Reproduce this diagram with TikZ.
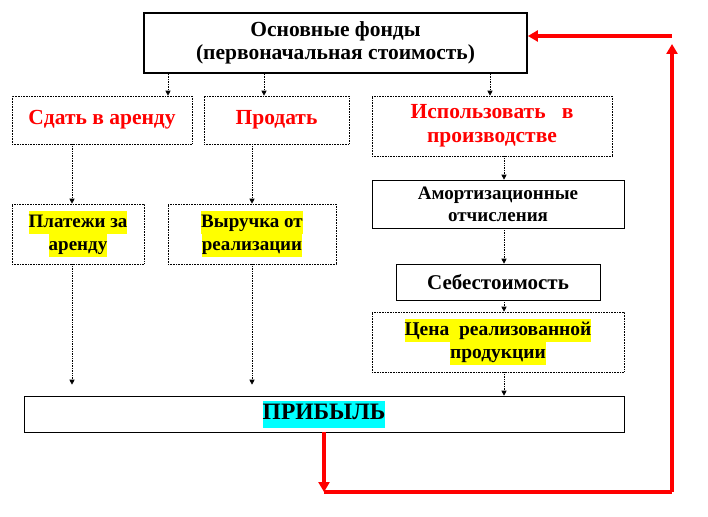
\documentclass[tikz,border=0pt]{standalone}
\usepackage{fontspec}
\setmainfont{Liberation Serif}
\usepackage{xcolor}
\usetikzlibrary{arrows.meta}
\definecolor{hlyel}{RGB}{255,255,0}
\definecolor{hlcya}{RGB}{0,255,255}
\definecolor{lnred}{RGB}{255,0,0}
\newcommand{\fs}[2]{\fontsize{#1}{#2}\selectfont}
\newcommand{\hly}[1]{{\setlength{\fboxsep}{0pt}\colorbox{hlyel}{\strut #1}}}
\newcommand{\hlc}[1]{{\setlength{\fboxsep}{0pt}\colorbox{hlcya}{\strut #1}}}
\tikzset{box/.style={draw,densely dotted,line width=.6pt,align=center,inner sep=2pt},
 sbox/.style={box,solid},
 head/.style={box,solid,line width=1.8pt},
 act/.style={box,text=lnred},
 arr/.style={-{Triangle[length=5pt,width=5pt]},densely dotted,line width=.7pt},
 redln/.style={lnred,line width=3.5pt},
 redarr/.style={redln,-{Triangle[length=10pt,width=11pt]}}}
\begin{document}
\begin{tikzpicture}[x=1pt,y=-1pt]
\useasboundingbox (0,0) rectangle (708,516);
% boxes
\node[head,minimum width=383pt,minimum height=60pt,font=\bfseries\fs{21.5}{23.5}] (top) at (335.5,43)
 {Основные фонды\\(первоначальная стоимость)};
\node[act,minimum width=180pt,minimum height=48pt,font=\bfseries\fs{21.5}{25}] (rent) at (102,120) {Сдать в аренду};
\node[act,minimum width=145pt,minimum height=48pt,font=\bfseries\fs{21.5}{25}] (sell) at (276.5,120) {Продать};
\node[act,minimum width=240pt,minimum height=60pt,font=\bfseries\fs{21.5}{24}] (use) at (492,126)
 {Использовать~~~в\\производстве};
\node[box,minimum width=132pt,minimum height=60pt,font=\bfseries\fs{19}{23}] (pay) at (78,234)
 {\hly{Платежи за}\\\hly{аренду}};
\node[box,minimum width=168pt,minimum height=60pt,font=\bfseries\fs{19}{23}] (rev) at (252,234)
 {\hly{Выручка от}\\\hly{реализации}};
\node[sbox,minimum width=252pt,minimum height=48pt,font=\bfseries\fs{19}{22}] (amort) at (498,204)
 {Амортизационные\\отчисления};
\node[sbox,minimum width=204pt,minimum height=36pt,font=\bfseries\fs{21}{25}] (cost) at (498,282) {Себестоимость};
\node[box,minimum width=252pt,minimum height=60pt,font=\bfseries\fs{19.5}{23}] (price) at (498,342)
 {\hly{Цена~~реализованной}\\\hly{продукции}};
\node[sbox,minimum width=600pt,minimum height=36pt,font=\bfseries\fs{23.5}{27}] (profit) at (324,414)
 {\hlc{ПРИБЫЛЬ}};
% columns for the connectors
\coordinate (ca) at (168,0);
\coordinate (cb) at (264,0);
\coordinate (cc) at (490,0);
\coordinate (cd) at (72,0);
\coordinate (ce) at (252,0);
\coordinate (cf) at (504,0);
\coordinate (r1) at (324,492);
\coordinate (r2) at (672,492);
\coordinate (r3) at (672,36);
\draw[arr] (top.south -| ca) -- (rent.north -| ca);
\draw[arr] (top.south -| cb) -- (sell.north -| cb);
\draw[arr] (top.south -| cc) -- (use.north -| cc);
\draw[arr] (rent.south -| cd) -- (pay.north -| cd);
\draw[arr] (sell.south -| ce) -- (rev.north -| ce);
\draw[arr] (use.south -| cf) -- (amort.north -| cf);
\draw[arr] (amort.south -| cf) -- (cost.north -| cf);
\draw[arr] (cost.south -| cf) -- (price.north -| cf);
\draw[arr] (price.south -| cf) -- (profit.north -| cf);
\draw[arr,shorten >=11pt] (pay.south -| cd) -- (profit.north -| cd);
\draw[arr,shorten >=11pt] (rev.south -| ce) -- (profit.north -| ce);
% feedback loop
\draw[redarr] (profit.south) -- (r1);
\draw[redln] (r1) -- (r2);
\draw[redarr,shorten >=8pt] (r2) -- (r3);
\draw[redarr] (r3) -- (r3 -| top.east);
\end{tikzpicture}
\end{document}
